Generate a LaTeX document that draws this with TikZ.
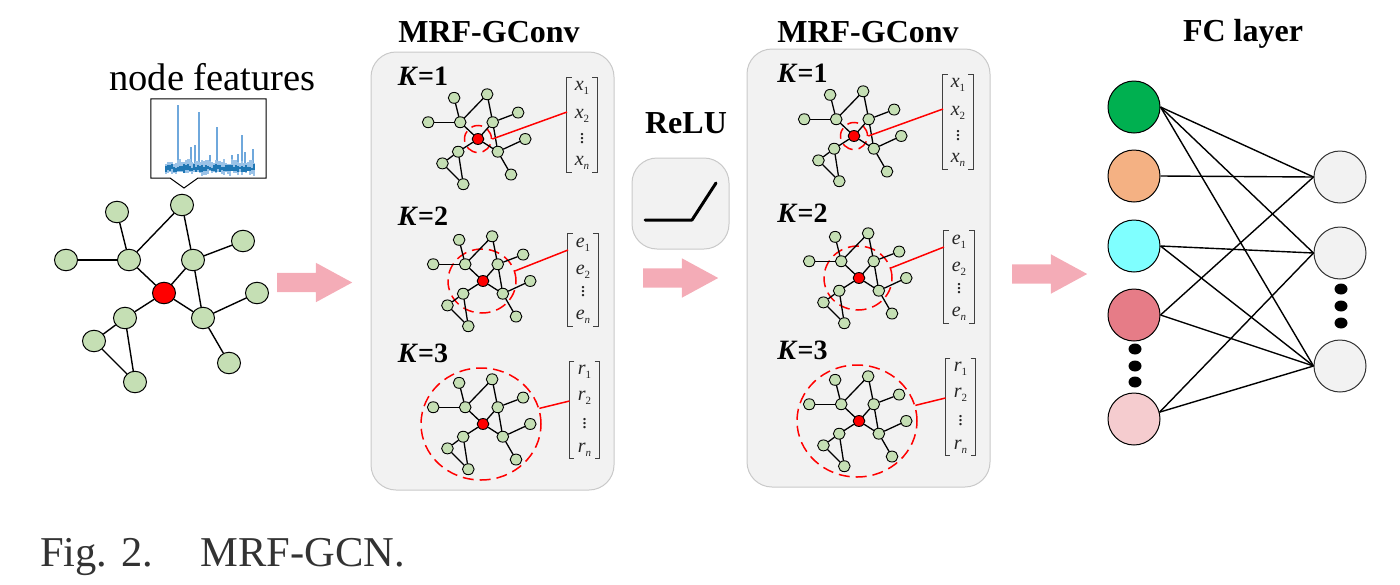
\documentclass[tikz,border=0pt]{standalone}
\usepackage{fontspec}
\setmainfont{Liberation Serif}
\usepackage{xcolor}
\usetikzlibrary{shapes.geometric,shapes.arrows}
\definecolor{leafgreen}{HTML}{C5DFB4}
\definecolor{panelgray}{HTML}{F2F2F2}
\definecolor{panelline}{HTML}{C9C9C9}
\definecolor{arrowpink}{HTML}{F4ACB7}
\definecolor{plotblue}{HTML}{1F77B4}
\definecolor{spikeblue}{HTML}{6FA8DC}
\tikzset{
  x=1pt, y=-1pt,
  leafnode/.style={ellipse, draw=black, fill=leafgreen, inner sep=0pt},
  centernode/.style={ellipse, draw=black, fill=red, inner sep=0pt},
  gedge/.style={draw=black, line cap=round},
  panelbox/.style={draw=panelline, fill=panelgray, rounded corners=25pt, line width=1pt,
    minimum width=243pt, minimum height=438pt},
  relubox/.style={draw=panelline, fill=panelgray, rounded corners=25pt, line width=1pt,
    minimum width=97pt, minimum height=91pt},
  ring/.style={ellipse, draw=red, dash pattern=on 11pt off 6pt, line width=1.5pt, inner sep=0pt},
  tap/.style={draw=red, line width=1.5pt},
  bracket/.style={draw=black!75, line width=1pt},
  vecbox/.style={inner sep=0pt, minimum width=30pt},
  entry/.style={inner sep=0pt, font=\fontsize{20}{20}\selectfont, text=black!85},
  title/.style={inner sep=0pt, font=\fontsize{32}{36}\selectfont\bfseries},
  klabel/.style={inner sep=0pt, font=\fontsize{28}{32}\selectfont\bfseries},
  blockarrow/.style={single arrow, anchor=tail, fill=arrowpink, inner xsep=0pt, inner ysep=9.5pt, minimum width=39pt, minimum height=75pt,
    single arrow head extend=10pt, single arrow head indent=0pt, single arrow tip angle=57},
  fcin/.style={circle, draw=black, line width=1pt, minimum size=52pt, inner sep=0pt},
  fcout/.style={circle, draw=black!80, fill=panelgray, line width=1pt, minimum size=52pt, inner sep=0pt},
  fcedge/.style={draw=black, line width=1.4pt},
  morepoint/.style={ellipse, fill=black, minimum width=13pt, minimum height=11pt, inner sep=0pt}
}
\newcommand{\subent}[2]{\textit{#1}\raisebox{-3.5pt}{\fontsize{11}{11}\selectfont #2}}
\newcommand{\graphnet}[5]{
  \foreach \nm/\dx/\dy in {a/-47/-81, b/18/-88, c/79/-52, d/-98/-33, e/-35/-33, f/29/-33,
      g/93/0, h/-39/25, i/39/25, j/-70/48, k/65/70, l/-29/89}
    \node[leafnode, minimum width=#4*23pt, minimum height=#4*21.5pt, line width=#5]
      (#1\nm) at ({#2+#4*\dx},{#3+#4*\dy}) {};
  \node[centernode, minimum width=#4*23pt, minimum height=#4*21.5pt, line width=#5] (#1o) at (#2,#3) {};
  \foreach \p/\q in {a/e, d/e, e/b, b/f, f/c, e/o, f/o, f/i, o/i, o/h, i/g, i/k, h/j, h/l, j/l}
    \draw[gedge, line width=#5+0.4pt] (#1\p) -- (#1\q);
}
\newcommand{\featvec}[9]{
  \node[vecbox, minimum height=#5-#4] (#1) at (#2,{(#4+#5)/2}) {};
  \draw[bracket] (#1.north west) ++(5,0) -- (#1.north west) -- (#1.south west) -- ++(5,0);
  \draw[bracket] (#1.north east) ++(-5,0) -- (#1.north east) -- (#1.south east) -- ++(-5,0);
  \node[entry] (#1e1) at (#2,#6) {\subent{#3}{1}};
  \node[entry] (#1e2) at (#2,#7) {\subent{#3}{2}};
  \node[entry] (#1e3) at (#2,#8) {\raisebox{-6pt}[0pt][0pt]{$\vdots$}};
  \node[entry] (#1e4) at (#2,#9) {\subent{#3}{\textit{n}}};
}
\newcommand{\mrfpanel}[1]{
  \node[panelbox] (box) at (492.5,271) {};
  \node[klabel] (ka) at (423+#1,76) {\textit{K}=1};
  \node[klabel] (kb) at (423+#1,216) {\textit{K}=2};
  \node[klabel] (kc) at (423+#1,353) {\textit{K}=3};
  \node[ring, minimum width=27pt, minimum height=27pt] (ringa) at (478,139) {};
  \node[ring, minimum width=68pt, minimum height=64pt] (ringb) at (482,281) {};
  \node[ring, minimum width=120pt, minimum height=112pt] (ringc) at (481,424) {};
  \graphnet{ga}{478}{139}{0.508}{0.9pt}
  \graphnet{gb}{483}{281}{0.508}{0.9pt}
  \graphnet{gc}{483}{424}{0.508}{0.9pt}
  \featvec{veca}{582}{x}{78}{172}{88}{116}{137}{163}
  \featvec{vecb}{583}{e}{234}{326}{245}{272}{290}{317}
  \featvec{vecc}{584.5}{r}{362}{458}{372}{398}{422}{450}
  \coordinate (tapa) at (567,112);
  \coordinate (tapb) at (568,250);
  \coordinate (tapc) at (569.5,401);
  \draw[tap] (tapa) -- (ringa.east);
  \draw[tap] (tapb) -- (ringb.17);
  \draw[tap] (tapc) -- (ringc.15);
}
\begin{document}
\begin{tikzpicture}
  \useasboundingbox (0,0) rectangle (1400,584);
  \node[inner sep=0pt, font=\fontsize{38.5}{42}\selectfont] (features) at (212.5,77) {node features};
  \node[inner sep=0pt, minimum width=115pt, minimum height=79pt] (plot) at (208.5,138.5) {};
  \draw[draw=black, line width=1pt] (plot.north west) -- (plot.north east) -- (plot.south east) -- (198,178) -- (184,188)
    -- (170,178) -- (plot.south west) -- cycle;
  \pgfmathsetseed{11}
  \foreach \sx/\sy in {178/105, 199/112, 217/127, 242/135, 191/147, 195/145, 210/155, 232/155, 238/154, 245/152, 253/149}
    \draw[spikeblue, line width=2pt] (\sx,\sy) -- (\sx,168);
  \foreach \sx in {166,168,...,254}
    \draw[spikeblue!70, line width=2pt] ({\sx},{159+5*rnd}) -- ({\sx},{171+5*rnd});
  \foreach \sx in {166,168,...,254}
    \draw[plotblue, line width=2pt] ({\sx},{164+4*rnd}) -- ({\sx},{169+4*rnd});
  \graphnet{m}{164}{293}{1}{1pt}
  \node[blockarrow] (arrowa) at (277,282.5) {};
  \begin{scope}[name prefix=pa-]
    \mrfpanel{0}
  \end{scope}
  \begin{scope}[shift={(376,-3)}, name prefix=pb-]
    \mrfpanel{3.5}
  \end{scope}
  \node[title] (titlea) at (489,32) {MRF-GConv};
  \node[title] (titleb) at (868,32) {MRF-GConv};
  \node[title] (relu) at (686,123) {ReLU};
  \node[relubox] (relubg) at (680.5,203.5) {};
  \coordinate (relua) at (645,220);
  \coordinate (relub) at (692,220);
  \coordinate (reluc) at (716,183);
  \draw[line width=3pt, line cap=round, line join=round] (relua) -- (relub) -- (reluc);
  \node[blockarrow] (arrowb) at (643,278) {};
  \node[blockarrow] (arrowc) at (1012,274) {};
  \node[title] (fctitle) at (1243,34) {FC layer};
  \node[fcin, fill={rgb,255:red,0;green,176;blue,80}] (l1) at (1134,107) {};
  \node[fcin, fill={rgb,255:red,244;green,177;blue,131}] (l2) at (1134,176) {};
  \node[fcin, fill={rgb,255:red,127;green,255;blue,255}] (l3) at (1134,246) {};
  \node[fcin, fill={rgb,255:red,230;green,124;blue,135}] (l4) at (1134,315) {};
  \node[fcin, fill={rgb,255:red,245;green,204;blue,207}] (l5) at (1134,419) {};
  \node[fcout] (r1) at (1340,177) {};
  \node[fcout] (r2) at (1340,253) {};
  \node[fcout] (r3) at (1340,366) {};
  \foreach \a/\b in {l1/r1, l1/r2, l1/r3, l2/r1, l3/r2, l3/r3, l4/r1, l4/r3}
    \draw[fcedge] (\a.east) -- (\b.west);
  \draw[fcedge] (l5.15) -- (r2.west);
  \draw[fcedge] (l5.15) -- (r3.west);
  \foreach \nm/\px/\py in {da/1135/349, db/1135/366, dc/1135/382, dd/1341/289, de/1341/306, df/1341/323}
    \node[morepoint] (\nm) at (\px,\py) {};
  \node[inner sep=0pt, anchor=base west, text=black!80, font=\fontsize{42.5}{48}\selectfont] (caption) at (40,566)
    {Fig. 2.\hspace{47pt}MRF-GCN.};
\end{tikzpicture}
\end{document}
